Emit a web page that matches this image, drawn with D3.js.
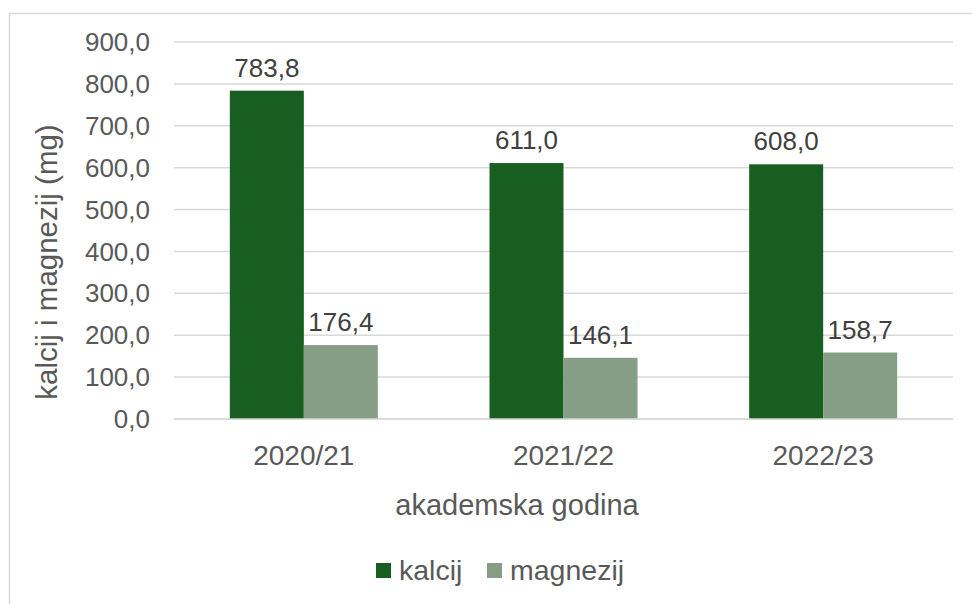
<!DOCTYPE html>
<html>
<head>
<meta charset="utf-8">
<script src="https://cdn.jsdelivr.net/npm/d3@7"></script>
<style>
  body { margin: 0; background: #fff; }
  text { font-family: "Liberation Sans", Arial, sans-serif; }
</style>
</head>
<body>
<div id="chart"></div>
<script>
// data
var years = ["2020/21", "2021/22", "2022/23"];
var seriesNames = ["kalcij", "magnezij"];
var kalcij = [783.8, 611.0, 608.0];
var magnezij = [176.4, 146.1, 158.7];
var yTicks = [0, 100, 200, 300, 400, 500, 600, 700, 800, 900];
var colors = ["#185e20", "#869e86"];

var width = 972, height = 604;
var plot = {left: 174, right: 953, top: 42, bottom: 419};

var svg = d3.select("#chart").append("svg")
  .attr("width", width)
  .attr("height", height);

svg.append("rect")
  .attr("width", width).attr("height", height)
  .style("fill", "#fff");

// outer chart border (only left and top visible in the picture)
svg.append("rect")
  .attr("x", 9.5).attr("y", 13.5)
  .attr("width", width + 20).attr("height", height + 20)
  .style("fill", "none")
  .style("stroke", "#d9d9d9")
  .style("stroke-width", 1.5);

var fmt = function(v) { return d3.format(".1f")(v).replace(".", ","); };

var y = d3.scaleLinear().domain([0, 900]).range([plot.bottom, plot.top]);
var x0 = d3.scaleBand().domain(years).range([plot.left, plot.right]).paddingInner(0).paddingOuter(0);
var barW = 74;
var x1 = d3.scaleBand().domain(seriesNames).range([0, barW * 2]);

// gridlines
svg.append("g").selectAll("line")
  .data(yTicks)
  .enter().append("line")
  .attr("x1", plot.left).attr("x2", plot.right)
  .attr("y1", d => y(d)).attr("y2", d => y(d))
  .style("stroke", "#d9d9d9")
  .style("stroke-width", 1.5);

// y tick labels
svg.append("g").selectAll("text")
  .data(yTicks)
  .enter().append("text")
  .attr("x", 150)
  .attr("y", d => y(d))
  .attr("dy", "0.35em")
  .attr("text-anchor", "end")
  .attr("font-size", "26px")
  .style("fill", "#595959")
  .text(d => fmt(d));

var rows = years.map((yr, i) => ({year: yr, values: [kalcij[i], magnezij[i]]}));

var groups = svg.selectAll("g.grp")
  .data(rows)
  .enter().append("g")
  .attr("class", "grp")
  .attr("transform", d => "translate(" + (x0(d.year) + x0.bandwidth() / 2 - barW) + ",0)");

groups.selectAll("rect")
  .data(d => d.values.map((v, j) => ({name: seriesNames[j], v: v, j: j})))
  .enter().append("rect")
  .attr("x", d => x1(d.name))
  .attr("y", d => y(d.v))
  .attr("width", x1.bandwidth())
  .attr("height", d => plot.bottom - y(d.v))
  .style("fill", d => colors[d.j]);

groups.selectAll("text.lbl")
  .data(d => d.values.map((v, j) => ({name: seriesNames[j], v: v, j: j})))
  .enter().append("text")
  .attr("class", "lbl")
  .attr("x", d => x1(d.name) + x1.bandwidth() / 2)
  .attr("y", d => y(d.v) - 14)
  .attr("text-anchor", "middle")
  .attr("font-size", "26px")
  .style("fill", "#404040")
  .text(d => fmt(d.v));

// baseline redraw over bars
svg.append("line")
  .attr("x1", plot.left).attr("x2", plot.right)
  .attr("y1", y(0)).attr("y2", y(0))
  .style("stroke", "#d9d9d9")
  .style("stroke-width", 1.5);

// x labels
svg.append("g").selectAll("text")
  .data(years)
  .enter().append("text")
  .attr("x", d => x0(d) + x0.bandwidth() / 2)
  .attr("y", 465)
  .attr("text-anchor", "middle")
  .attr("font-size", "28px")
  .style("fill", "#595959")
  .text(d => d);

// axis titles
svg.append("text")
  .attr("x", 517)
  .attr("y", 515)
  .attr("text-anchor", "middle")
  .attr("font-size", "29px")
  .style("fill", "#595959")
  .text("akademska godina");

svg.append("text")
  .attr("transform", "translate(57," + 262 + ") rotate(-90)")
  .attr("text-anchor", "middle")
  .attr("font-size", "29.5px")
  .style("fill", "#595959")
  .text("kalcij i magnezij (mg)");

// legend
var legX = [376, 487];
var leg = svg.selectAll("g.leg")
  .data(seriesNames)
  .enter().append("g")
  .attr("class", "leg")
  .attr("transform", (d, i) => "translate(" + legX[i] + ",563)");
leg.append("rect")
  .attr("width", 15).attr("height", 15)
  .style("fill", (d, i) => colors[i]);
leg.append("text")
  .attr("x", 23).attr("y", 7.5)
  .attr("dy", "0.35em")
  .attr("font-size", "28.5px")
  .style("fill", "#595959")
  .text(d => d);
</script>
</body>
</html>
